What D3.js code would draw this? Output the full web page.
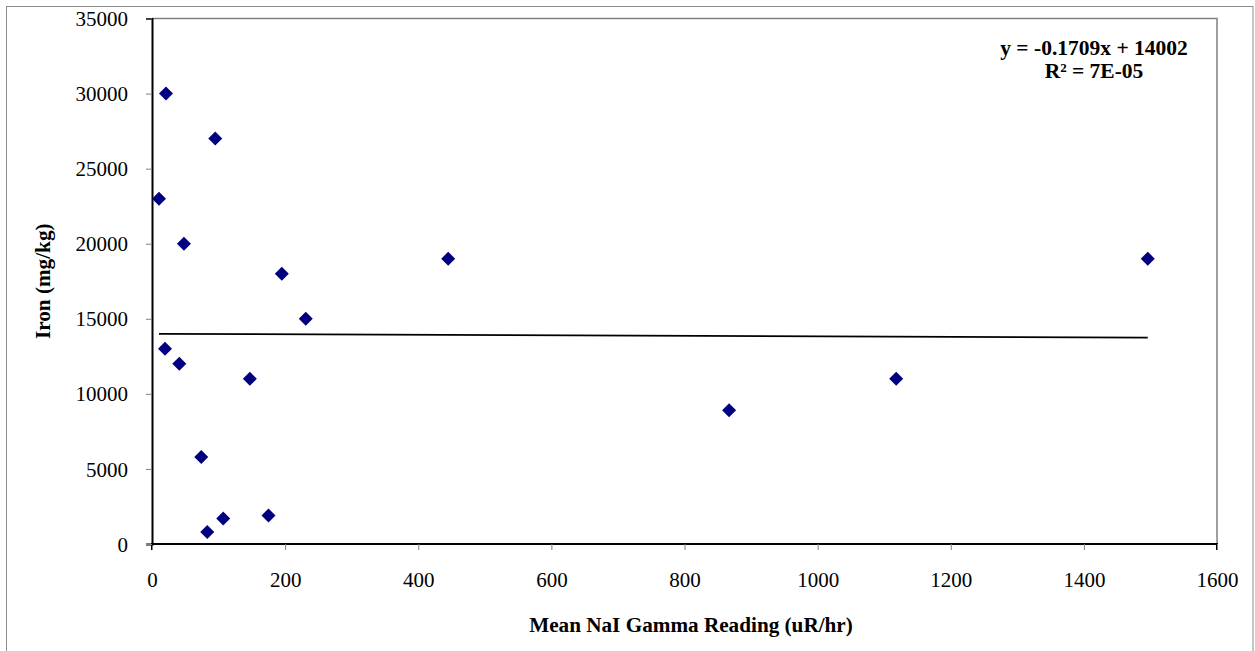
<!DOCTYPE html>
<html>
<head>
<meta charset="utf-8">
<script src="https://cdn.jsdelivr.net/npm/d3@7"></script>
<style>
  html, body { margin: 0; padding: 0; background: #fff; }
  svg { display: block; }
  text { font-family: "Liberation Serif", "Times New Roman", serif; fill: #000; }
</style>
</head>
<body>
<svg id="chart" width="1255" height="651"></svg>
<script>
// Mean NaI gamma reading (uR/hr) and iron concentration (mg/kg) per sample
const gammaReading = [21, 95, 10.5, 48, 195, 231, 445, 1496, 19.5, 41, 147, 1118, 867, 74, 83, 107, 175];
const ironConc     = [30000, 27000, 23000, 20000, 18000, 15000, 19000, 19000, 13000, 12000, 11000, 11000, 8900, 5800, 800, 1700, 1900];

// Linear trendline reported for the series
const trendSlope = -0.1709;
const trendIntercept = 14002;
const trendLabel = ["y = -0.1709x + 14002", "R² = 7E-05"];

const xTicks = [0, 200, 400, 600, 800, 1000, 1200, 1400, 1600];
const yTicks = [0, 5000, 10000, 15000, 20000, 25000, 30000, 35000];

const xTitle = "Mean NaI Gamma Reading (uR/hr)";
const yTitle = "Iron (mg/kg)";

const svg = d3.select("#chart");
const plot = { left: 152, right: 1217, top: 18.5, bottom: 544 };

const x = d3.scaleLinear().domain([0, 1600]).range([plot.left, plot.right]);
const y = d3.scaleLinear().domain([0, 35000]).range([plot.bottom, plot.top]);

// outer chart frame
svg.append("rect")
  .attr("x", 6.5).attr("y", 6.5)
  .attr("width", 1253 - 6.5).attr("height", 700)
  .attr("fill", "none").attr("stroke", "#8c8c8c").attr("stroke-width", 1);

// plot area frame (top and right edges)
svg.append("path")
  .attr("d", `M${plot.left},${plot.top}H${plot.right}V${plot.bottom}`)
  .attr("fill", "none").attr("stroke", "#808080").attr("stroke-width", 1.5);

// axes
const xAxis = svg.append("g")
  .attr("transform", `translate(0,${plot.bottom})`)
  .call(d3.axisBottom(x).tickValues(xTicks).tickSize(6).tickPadding(22).tickFormat(d3.format("d")));
const yAxis = svg.append("g")
  .attr("transform", `translate(${plot.left},0)`)
  .call(d3.axisLeft(y).tickValues(yTicks).tickSize(6).tickPadding(18).tickFormat(d3.format("d")));

[xAxis, yAxis].forEach(g => {
  g.select(".domain").attr("stroke", "#000").attr("stroke-width", 2);
  g.selectAll(".tick line").attr("stroke", "#808080").attr("stroke-width", 1);
  g.selectAll(".tick text")
    .attr("font-family", "'Liberation Serif', 'Times New Roman', serif")
    .attr("font-size", 21).attr("fill", "#000");
});
xAxis.select(".domain").attr("d", `M${plot.left},6V0H${plot.right}V6`);
yAxis.selectAll(".tick text").attr("dy", "0.34em");

// trendline across the range of the data
const xMin = d3.min(gammaReading), xMax = d3.max(gammaReading);
svg.append("line")
  .attr("x1", x(xMin)).attr("y1", y(trendSlope * xMin + trendIntercept))
  .attr("x2", x(xMax)).attr("y2", y(trendSlope * xMax + trendIntercept))
  .attr("stroke", "#000").attr("stroke-width", 1.8);

// diamond markers
const diamond = d3.symbol().type(d3.symbolDiamond2).size(125);
svg.append("g").selectAll("path")
  .data(gammaReading.map((g, i) => [g, ironConc[i]]))
  .join("path")
  .attr("d", diamond)
  .attr("transform", d => `translate(${x(d[0])},${y(d[1])})`)
  .attr("fill", "#000080");

// trendline equation
const eq = svg.append("text")
  .attr("x", 1094).attr("y", 55)
  .attr("text-anchor", "middle")
  .attr("font-weight", "bold").attr("font-size", 21.5);
trendLabel.forEach((t, i) => {
  eq.append("tspan").attr("x", 1094).attr("dy", i === 0 ? 0 : 23).text(t);
});

// axis titles
svg.append("text")
  .attr("x", 691).attr("y", 632)
  .attr("text-anchor", "middle")
  .attr("font-weight", "bold").attr("font-size", 21.2)
  .text(xTitle);
svg.append("text")
  .attr("transform", `translate(50,${(plot.top + plot.bottom) / 2}) rotate(-90)`)
  .attr("text-anchor", "middle")
  .attr("font-weight", "bold").attr("font-size", 21.2)
  .text(yTitle);
</script>
</body>
</html>
